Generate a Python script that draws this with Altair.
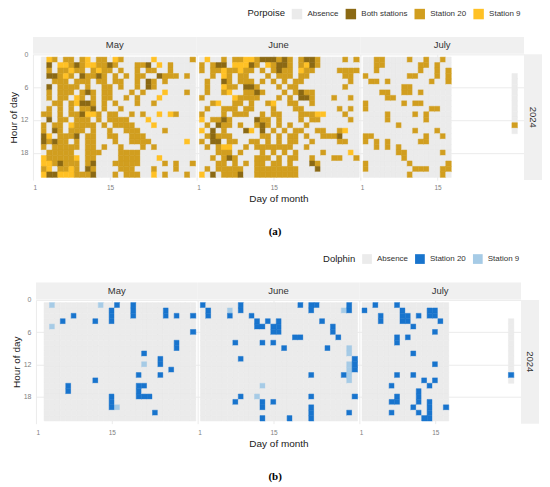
import altair as alt
import pandas as pd

# ---------------- data ----------------
YEAR = "2024"
MONTHS = ["May", "June", "July"]
FIRST_DAY = {"May": 3, "June": 2, "July": 2}
LAST_DAY = {"May": 30, "June": 30, "July": 17}
FIRST_HOUR, LAST_HOUR = 1, 22
HOUR_TICKS = [0, 6, 12, 18]
DAY_TICKS = [1, 15]

# Porpoise: one string per hour (1..22); token = <day offset from FIRST_DAY><code>
P_DOMAIN = ["Absence", "Both stations", "Station 20", "Station 9"]
P_RANGE = ["#EBEBEB", "#8B6914", "#D19E1F", "#FFC125"]
P_CODES = {"B": "Both stations", "G": "Station 20", "Y": "Station 9"}

P_MAY = [
    "1Y 2G 4G 5G 7G 8Y 10G 11G 13Y 14G 20Y 27G",
    "1B 3Y 4Y 5G 6B 7G 8Y 9Y 10G 11G 12B 13G 17G 18G 19B 21Y 23G",
    "1G 3G 4G 5Y 6G 7G 9G 10Y 11G 12G 14G 17G 19G 20G 23G",
    "1B 2B 3G 4Y 5G 7B 8G 9G 10B 11G 13G 15G 17G 18G 21B 22G 23G 24G 26G",
    "2G 3G 4G 6G 7G 8G 10G 11G 13G 14G 17G 19B 20G 22G",
    "1B 3G 4G 5G 6G 8G 11G 12G 14G 17G 19B 20G",
    "1G 3G 4G 5G 7G 8B 9G 11G 12G 16G 18G 22Y 26G",
    "1G 3G 4G 6Y 7G 9G 11G 12G 15G 17G 21Y",
    "2G 3G 5G 6Y 7B 8B 9G 11G 13G 17G 20G",
    "1G 3G 5G 7G 8G 9B 11G 14G",
    "0G 1G 3G 5G 6G 7B 8Y 9Y 10G 12G 13G 16G 18G 21Y 23Y 24G",
    "1B 3G 4G 6G 7G 8G 10G 12G 13G 14G 15G 19Y",
    "0G 2G 3G 5Y 6G 7G 8G 9G 11G 13G 14G 15G 16G 20Y",
    "0G 2B 3G 5G 6G 7G 9G 12G 15G 16G 17G 22G",
    "0B 1Y 3G 4G 5G 6B 8G 9G 12G 13G 16G 17G 18G",
    "0B 1G 2B 3G 4G 6G 8G 9G 13G 16G 17G 18G 19G 26Y",
    "0G 2G 3G 4G 5G 6G 8G 9G 11G 14G 18G 20G",
    "1G 2G 3G 4G 5G 8G 9G 10G 14G 15G 16G 17G",
    "0Y 1G 2G 3G 4G 5G 6Y 8G 9G 14G 15G 16G 17G 21Y",
    "0Y 1Y 2G 3B 4G 5G 6G 8G 9B 13G 14G 15G 16G 17G 22G 24G 27G",
    "0G 1Y 3G 4G 5Y 6G 8B 9G 14G 15G 16G 20G 24G",
    "0Y 1B 2B 3Y 4Y 5Y 6G 7G 8G 9B 13G 15G 16G 17G 20Y 22G 26G",
]
P_JUNE = [
    "1Y 4G 6G 7G 8Y 9Y 10G 11B 12B 13B 14G 15B 16G 18G 19B 20B 21G 26G 28G",
    "0G 2G 3B 4B 6Y 7Y 8Y 9B 10G 12Y 13G 14B 15B 16G 18G 19Y 20B 21G",
    "0G 2G 3G 4Y 5G 6G 7Y 8G 9G 11G 13G 14B 15G 16G 18Y 19G 20G 25G 26G 27G 28G",
    "2G 4Y 5G 7G 8G 12G 14G 15G 16G 18G 19G 26G 27G",
    "1G 4B 5G 7G 8G 9G 11G 13G 15G 17G 18G 27G",
    "1G 4Y 5G 6G 8B 9B 10G 14G 16G 17G 26G",
    "1G 4G 5Y 8G 9G 10B 11G 15G 17G 18B 19G 20G",
    "0G 6Y 7G 8G 9G 10G 14G 16G 18B 19B 20G 24G 27G",
    "2G 3Y 6G 7G 9G 12G 13Y 16G 17G 20G",
    "1G 4G 5G 6G 8G 9G 13G 17G 18G 25G 27G",
    "0G 4G 6G 7G 8G 11G 13G 14G 18G 19G 20G 21Y 22Y 26G",
    "0Y 2G 3G 4B 5G 10B 11G 12G 14G 18G 20G 21G 27G",
    "1G 3B 4G 5G 7G 10G 11B 12G 14G 16G 19G",
    "0Y 2B 4G 8B 9Y 11B 13G 15G 17G 18G 21G 22G 25G 26Y",
    "1G 2B 3G 4G 5G 11G 12G 14G 16G 17G 19G 22G 23G 24G 25B",
    "0G 2B 3B 5G 6G 9G 10G 12G 14G 16G 17G 20G 25G 26G",
    "1G 3G 4Y 5Y 8G 10G 11G 12G 13G 14G 15G 16G 19G",
    "3G 4G 5G 7G 11G 13G 15G 17G 22G 27Y",
    "2G 4G 5B 6G 10G 11G 12G 14G 16G 17G 20G 24G 25G 28G",
    "3G 4G 6G 8G 10G 11G 13G 14G 16G 20B 21G",
    "1G 3G 4G 5G 6G 7G 10G 11G 12G 13G 14G 15G 16G 17G 21B",
    "0Y 2B 4G 5G 6G 7B 10G 11G 12G 13G 14G 15G 16G 17G",
]
P_JULY = [
    "2G 3G 8G 11G 14G",
    "2G 3G 10G 11G 13G",
    "2G 10G 13G 15G",
    "0G 8G 9G 13G 15G",
    "1G 2G 4G 12G 15G",
    "7G 8G",
    "3G 4G 7G 8G 10G",
    "4G 5G",
    "0G 7G 9G 10G",
    "0G 12G 13G",
    "4G 9G 11G",
    "4G 11G",
    "6G",
    "9G 13G",
    "0G 1G 11G 14G",
    "0G 2G 4G 10G 11G",
    "2G 4G 6G",
    "6G 7G 14G",
    "7G",
    "0G 8G 15G",
    "0G 9G 10G 11G 14G 15G",
    "8G 14G",
]
P_EXTRA = {"day": 29, "hours": [4, 14], "hits": {13: "G"}}

# Dolphin: same layout of tokens
D_DOMAIN = ["Absence", "Station 20", "Station 9"]
D_RANGE = ["#EBEBEB", "#1874CD", "#A6CBE6"]
D_CODES = {"D": "Station 20", "L": "Station 9"}

D_MAY = [
    "1L 10L 13D 16D", "12D 16D 22D", "5D 12D 16D 22D 24D 27D", "3D 9D 12D", "1L",
    "27D", "", "24D", "24D", "18D", "21D", "18L 21D", "23D", "17D 21D", "9D",
    "4D 17D 18D", "4D 17D", "12D 17D 18D 19D", "12D", "12D 13L", "20D", "",
]
D_JUNE = [
    "0D 7D 18D 20D 21D 27D", "1D 5L 7D 20D 26L 27D", "1D 5D 9D", "10D 12D 14D 22D",
    "10D 11D 13D 14D 24D", "13D 14D 24D", "17D 18D 25D", "6D 11D 13D", "15D 23D 27L",
    "27L", "7D 28D", "27L 28D", "27L 28D", "20D 26D 27L", "27L", "11L", "",
    "7D 10L 20D 28D", "6D 11D 13D", "11D 20D", "20D 27D", "11D 16D 20D",
]
D_JULY = [
    "2D 6D", "0D 7D 12D 13D", "3D 7D 8D 10D 12D 13D", "3D 7D 8D 14D", "9D", "13D",
    "6D 8D", "6D", "", "9D", "", "13D", "", "6D 9D", "11D 13D", "5D 12D", "10D",
    "6D 10D", "5D 6D 10D 12D", "9D 12D 15D", "5D 10D 12D", "11D 12D",
]
D_EXTRA = {"day": 29, "hours": [4, 15], "hits": {14: "D"}}

# ---------------- styling ----------------
STRIP = "#F0F0F0"
FONT = "Liberation Sans"


def build(rows, month, codes, extra=None):
    first, last = FIRST_DAY[month], LAST_DAY[month]
    hits = {}
    for h, row in zip(range(FIRST_HOUR, LAST_HOUR + 1), rows):
        for tok in row.split():
            hits[(first + int(tok[:-1]), h)] = codes[tok[-1]]
    recs = []
    for d in range(first, last + 1):
        for h in range(FIRST_HOUR, LAST_HOUR + 1):
            recs.append({"day": d, "hour": h, "status": hits.get((d, h), "Absence")})
    if extra is not None:
        for h in range(extra["hours"][0], extra["hours"][1] + 1):
            c = extra["hits"].get(h)
            recs.append({"day": extra["day"], "hour": h,
                         "status": codes[c] if c else "Absence"})
    df = pd.DataFrame(recs)
    df["x0"] = df["day"] - 0.5
    df["x1"] = df["day"] + 0.5
    df["y0"] = df["hour"] - 0.5
    df["y1"] = df["hour"] + 0.5
    return df


def month_chart(df, month, idx, cfg, domain, rng, legend_title, legend):
    w, h = cfg["width"], cfg["height"]
    xaxis = alt.Axis(values=DAY_TICKS, grid=True, labelFontSize=6.5,
                     labelPadding=cfg["xlabpad"], titleFontSize=10, titlePadding=2)
    x = alt.X("x0:Q", scale=alt.Scale(domain=cfg["xdom"], nice=False, zero=False),
              axis=xaxis, title=("Day of month" if idx == 1 else None))
    if idx == 0:
        yaxis = alt.Axis(values=HOUR_TICKS, grid=True, labelFontSize=7,
                         labelPadding=5, titleFontSize=10, titlePadding=2)
        ytitle = "Hour of day"
    else:
        yaxis = alt.Axis(values=HOUR_TICKS, grid=True, labels=False)
        ytitle = None
    y = alt.Y("y0:Q", scale=alt.Scale(domain=[0, 23], reverse=True, nice=False, zero=False),
              axis=yaxis, title=ytitle)
    cscale = alt.Scale(domain=domain, range=rng)
    tiles = alt.Chart(df).mark_rect(strokeWidth=0.5).encode(
        x=x, x2="x1:Q", y=y, y2="y1:Q",
        color=alt.Color("status:N", scale=cscale, title=legend_title, legend=legend),
        stroke=alt.Stroke("status:N", scale=cscale, legend=None),
    )
    hd = pd.DataFrame({"month": [month]})
    strip = alt.Chart(hd).mark_rect(color=STRIP).encode(
        x=alt.value(0), x2=alt.value(w), y=alt.value(-17.5), y2=alt.value(-0.5))
    txt = alt.Chart(hd).mark_text(fontSize=9.5, color="#333333", baseline="middle").encode(
        text="month:N", x=alt.value(w / 2), y=alt.value(-9))
    return alt.layer(tiles, strip, txt).properties(width=w, height=h)


def year_strip(cfg):
    h = cfg["height"]
    yd = pd.DataFrame({"year": [YEAR]})
    top = alt.Chart(yd).mark_rect(color="white").encode(
        x=alt.value(0), x2=alt.value(18), y=alt.value(-17.5), y2=alt.value(-0.5))
    bg = alt.Chart(yd).mark_rect(color=STRIP).encode(
        x=alt.value(0), x2=alt.value(18), y=alt.value(0), y2=alt.value(h))
    txt = alt.Chart(yd).mark_text(angle=90, fontSize=9.5, color="#333333", baseline="middle").encode(
        text="year:N", x=alt.value(9), y=alt.value(h / 2))
    return alt.layer(top, bg, txt).properties(width=18, height=h)


def panel(rows_by_month, extra, codes, domain, rng, legend_title, cfg, caption):
    legend = alt.Legend(orient="none", legendX=cfg["legx"], legendY=cfg["legy"],
                        direction="horizontal", titleOrient="left", symbolType="square",
                        symbolSize=cfg["sym"], symbolStrokeWidth=0, labelFontSize=8,
                        titleFontSize=9.5, titleFontWeight="normal", titleColor="#1A1A1A",
                        labelColor="#333333", columnPadding=6, labelOffset=5,
                        titlePadding=6, padding=0, titleBaseline="middle")
    charts = []
    for i, m in enumerate(MONTHS):
        df = build(rows_by_month[m], m, codes, extra if m == "July" else None)
        charts.append(month_chart(df, m, i, cfg, domain, rng, legend_title, legend))
    charts.append(year_strip(cfg))
    return alt.hconcat(*charts, spacing=0).resolve_scale(color="shared", stroke="shared").properties(
        title=alt.TitleParams(caption, orient="bottom", anchor="middle", font="Liberation Serif",
                              fontSize=11, fontWeight="bold", color="black", offset=23))


P_CFG = {"width": 164, "height": 126, "xdom": [1, 30.7], "xlabpad": 4.5,
         "legx": 215, "legy": -46, "sym": 110}
D_CFG = {"width": 162, "height": 124, "xdom": [1, 30.83], "xlabpad": 6,
         "legx": 287.7, "legy": -46, "sym": 95}

pa = panel({"May": P_MAY, "June": P_JUNE, "July": P_JULY}, P_EXTRA, P_CODES,
           P_DOMAIN, P_RANGE, "Porpoise", P_CFG, "(a)")
pb = panel({"May": D_MAY, "June": D_JUNE, "July": D_JULY}, D_EXTRA, D_CODES,
           D_DOMAIN, D_RANGE, "Dolphin", D_CFG, "(b)")

chart = alt.vconcat(pa, pb, spacing=17, center=True).resolve_scale(
    color="independent", stroke="independent").properties(padding=0)
chart = chart.configure(font=FONT).configure_view(stroke=None).configure_axis(
    domain=False, ticks=False, gridColor="#EBEBEB", gridWidth=1,
    labelColor="#7F7F7F", titleColor="#1A1A1A", titleFontWeight="normal")

chart.save("out.html", embed_options={"renderer": "svg", "actions": False})
